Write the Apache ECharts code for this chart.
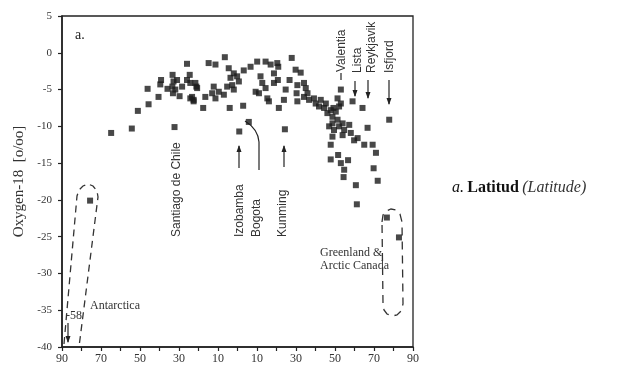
<!DOCTYPE html>
<html>
<head>
<meta charset="utf-8">
<script src="https://cdn.jsdelivr.net/npm/echarts@6/dist/echarts.min.js"></script>
<style>
  html, body { margin: 0; padding: 0; background: #fff; }
  #main { width: 634px; height: 370px; }
</style>
</head>
<body>
<div id="main"></div>
<script>
// latitude: negative = south, positive = north
const latitude = [
  -64.8, -54.2, -51.1, -45.6, -46.1, -40.5, -39.2, -39.6, -32.3, -25.9,
  -35.9, -33.3, -32.8, -33.4, -31.9, -33.1, -29.7, -31.0, -28.4, -25.9,
  -24.2, -24.2, -22.5, -21.1, -24.5, -6.5, -14.8, -11.3, 27.8, 10.1,
  14.4, 17.0, 20.4, 6.7, 3.2, -4.5, -1.9, -0.2, -3.6, 0.7,
  -2.7, -1.9, -5.3, -7.0, -9.6, -12.2, -13.0, -11.3, -16.5, -21.6,
  -20.7, -23.3, -22.5, -17.6, -4.0, 2.9, 5.8, 0.9, 24.3, 11.8,
  12.7, 14.4, 9.3, 11.0, 15.3, 16.1, 18.7, 20.7, 18.7, 20.9,
  26.7, 24.7, 23.8, 21.2, 29.8, 30.3, 30.7, 30.7, 34.1, 35.0,
  35.9, 34.1, 36.7, 39.2, 40.1, 42.7, 41.8, 44.4, 45.3, 46.1,
  47.8, 48.7, 50.4, 51.3, 48.7, 49.5, 47.0, 53.0, 52.1, 52.1,
  53.9, 54.7, 57.3, 58.1, 48.7, 47.8, 59.8, 53.0, 59.0, 64.1,
  66.7, 77.8, 49.2, 51.3, 53.9, 61.6, 65.0, 69.3, 71.0, 47.8,
  51.6, 53.0, 54.7, 54.4, 56.7, 60.7, 61.2, 69.8, 71.9, 76.6,
  82.8, -75.6, 32.4
];
const oxygen18 = [
  -10.9, -10.3, -7.9, -7.0, -4.9, -6.0, -3.7, -4.3, -10.1, -1.5,
  -4.9, -3.0, -3.9, -4.6, -5.0, -5.5, -5.9, -3.7, -4.6, -3.7,
  -4.1, -6.2, -6.6, -4.6, -3.0, -0.6, -1.4, -1.6, -0.7, -1.2,
  -1.2, -1.6, -1.4, -1.9, -2.4, -2.1, -2.8, -3.2, -3.4, -3.9,
  -4.4, -5.0, -4.6, -5.7, -5.3, -4.6, -5.5, -6.2, -6.0, -4.1,
  -4.8, -6.0, -6.4, -7.5, -7.5, -7.2, -9.4, -10.7, -10.4, -3.2,
  -4.1, -4.8, -5.3, -5.5, -6.2, -6.6, -4.1, -3.7, -2.8, -1.9,
  -3.7, -5.0, -6.4, -7.5, -2.3, -5.5, -6.6, -4.4, -4.1, -4.8,
  -5.5, -6.0, -6.4, -6.2, -6.9, -6.4, -7.3, -7.5, -6.9, -8.2,
  -7.8, -8.7, -8.0, -9.1, -9.6, -10.5, -10.0, -6.9, -7.3, -10.0,
  -9.6, -10.5, -9.8, -10.9, -11.4, -12.5, -11.9, -5.0, -6.6, -7.5,
  -10.2, -9.1, -7.5, -6.2, -11.2, -11.6, -12.5, -12.5, -13.6, -14.5,
  -13.9, -15.0, -15.9, -16.9, -14.6, -18.0, -20.6, -15.7, -17.4, -22.4,
  -25.1, -20.1, -2.7
];
const yTicks = { min: -40, max: 5, step: 5 };
const xTicks = { min: -90, max: 90, step: 10 };

const points = latitude.map((v, i) => [v, oxygen18[i]]);

const ink = '#222';
const serif = '"Liberation Serif", "DejaVu Serif", serif';
const sans = '"Liberation Sans", "DejaVu Sans", sans-serif';

// vertical labels (read bottom to top)
function vtext(x, y, text, font) {
  return {
    type: 'text', x: x, y: y, rotation: Math.PI / 2,
    style: { text: text, fill: '#333', font: font || ('12px ' + sans), align: 'left', verticalAlign: 'middle' }
  };
}
function vline(x, y1, y2, arrowUp, arrowDown) {
  const items = [{ type: 'line', shape: { x1: x, y1: y1, x2: x, y2: y2 }, style: { stroke: ink, lineWidth: 1.2 } }];
  if (arrowUp) {
    items.push({ type: 'polygon', shape: { points: [[x, y1 - 1], [x - 2.5, y1 + 6], [x + 2.5, y1 + 6]] }, style: { fill: ink } });
  }
  if (arrowDown) {
    items.push({ type: 'polygon', shape: { points: [[x, y2 + 1], [x - 2.5, y2 - 6], [x + 2.5, y2 - 6]] }, style: { fill: ink } });
  }
  return items;
}

const graphics = [
  { type: 'text', x: 75, y: 35, style: { text: 'a.', fill: ink, font: '14px ' + serif, verticalAlign: 'middle' } },
  vtext(177, 237, 'Santiago de Chile'),
  vtext(240, 237, 'Izobamba'),
  vtext(257, 237, 'Bogota'),
  vtext(283, 237, 'Kunming'),
  vtext(342, 72, 'Valentia'),
  vtext(358, 73, 'Lista'),
  vtext(372, 73, 'Reykjavik'),
  vtext(390, 73, 'Isfjord'),
  ...vline(239, 146, 168, true, false),
  ...vline(284, 146, 167, true, false),
  { type: 'bezierCurve', shape: { x1: 245, y1: 121, x2: 259, y2: 142, cpx1: 258, cpy1: 129 }, style: { stroke: ink, fill: null, lineWidth: 1.2 } },
  { type: 'line', shape: { x1: 259, y1: 142, x2: 259, y2: 170 }, style: { stroke: ink, lineWidth: 1.2 } },
  { type: 'line', shape: { x1: 341, y1: 73, x2: 341, y2: 80 }, style: { stroke: ink, lineWidth: 1.2 } },
  ...vline(355, 81, 96, false, true),
  ...vline(368, 80, 98, false, true),
  ...vline(389, 80, 104, false, true),
  { type: 'text', x: 90, y: 306, style: { text: 'Antarctica', fill: '#333', font: '12px ' + serif, verticalAlign: 'middle' } },
  { type: 'text', x: 66, y: 316, style: { text: '-58', fill: '#333', font: '12px ' + serif, verticalAlign: 'middle' } },
  ...vline(68, 323, 342, false, true),
  { type: 'polyline',
    shape: { points: [[64, 344], [77, 196], [79, 190], [83, 186], [88, 184], [93, 186], [97, 191], [98, 197], [79, 347]] },
    style: { stroke: '#333', fill: null, lineWidth: 1.3, lineDash: [7, 5] } },
  { type: 'text', x: 320, y: 253, style: { text: 'Greenland &', fill: '#333', font: '12px ' + serif, verticalAlign: 'middle' } },
  { type: 'text', x: 320, y: 266, style: { text: 'Arctic Canada', fill: '#333', font: '12px ' + serif, verticalAlign: 'middle' } },
  { type: 'polygon',
    shape: { points: [[382, 222], [383, 215], [386, 211], [391, 209], [396, 210], [400, 214], [402, 222], [403, 304], [401, 311], [397, 315], [392, 316], [387, 314], [384, 310], [383, 303]] },
    style: { stroke: '#333', fill: null, lineWidth: 1.3, lineDash: [8, 6] } },
  {
    type: 'text', x: 452, y: 188,
    style: {
      text: '{a|a.} {b|Latitud} {c|(Latitude)}',
      verticalAlign: 'middle',
      rich: {
        a: { font: 'italic 16px ' + serif, fill: '#111' },
        b: { font: 'bold 16px ' + serif, fill: '#111' },
        c: { font: 'italic 16px ' + serif, fill: '#333' }
      }
    }
  }
];

const chart = echarts.init(document.getElementById('main'), null, { renderer: 'canvas' });
chart.setOption({
  backgroundColor: '#fff',
  animation: false,
  grid: {
    left: 62, right: 221, top: 16, bottom: 23,
    show: true, borderColor: ink, borderWidth: 1.3,
    outerBoundsMode: 'none'
  },
  xAxis: {
    type: 'value', min: xTicks.min, max: xTicks.max, interval: xTicks.step,
    axisLine: { onZero: false, lineStyle: { color: ink, width: 1.6 } },
    axisTick: { show: true, inside: false, length: 4, lineStyle: { color: ink, width: 1.2 } },
    splitLine: { show: false },
    axisLabel: {
      color: '#333', fontFamily: serif, fontSize: 12, margin: 6,
      formatter: v => (Math.abs(v) % 20 === 10 ? String(Math.abs(v)) : '')
    }
  },
  yAxis: {
    type: 'value', min: yTicks.min, max: yTicks.max, interval: yTicks.step,
    name: 'Oxygen-18  [o/oo]', nameLocation: 'middle', nameGap: 34,
    nameTextStyle: { color: '#333', fontFamily: serif, fontSize: 15 },
    axisLine: { onZero: false, lineStyle: { color: ink, width: 1.6 } },
    axisTick: { show: true, inside: false, length: 4, lineStyle: { color: ink, width: 1.2 } },
    splitLine: { show: false },
    axisLabel: { color: '#333', fontFamily: serif, fontSize: 11, margin: 10 }
  },
  series: [{
    type: 'scatter',
    data: points,
    symbol: 'rect',
    symbolSize: 6,
    itemStyle: { color: '#1a1a1a' },
    silent: true
  }],
  graphic: graphics
});
</script>
</body>
</html>
